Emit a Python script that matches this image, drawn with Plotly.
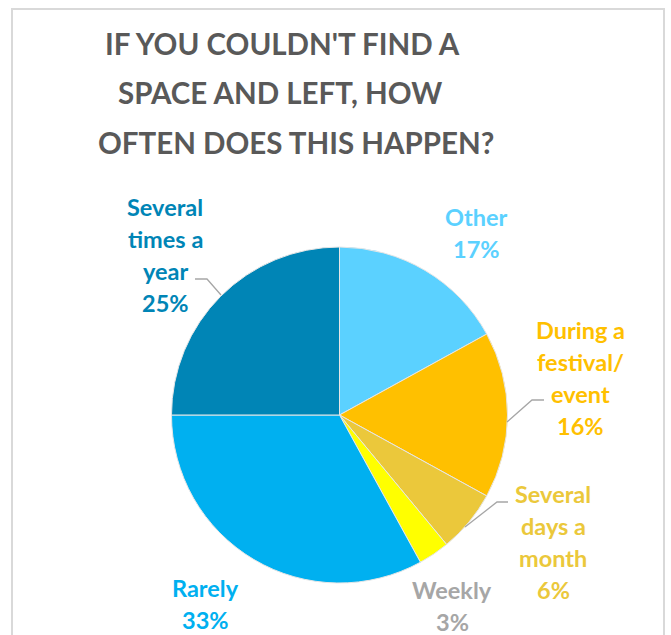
import plotly.graph_objects as go

# Survey answers, clockwise from 12 o'clock
categories = ["Other", "During a festival/ event", "Several days a month",
              "Weekly", "Rarely", "Several times a year"]
percent = [17, 16, 6, 3, 33, 25]
slice_colors = ["#5BD1FF", "#FFC000", "#EBC83B", "#FFFF00", "#00B0F0", "#0085B6"]
label_colors = ["#5BD1FF", "#FFC000", "#EBC83B", "#A6A6A6", "#00B0F0", "#0085B6"]

# How each category name is wrapped in its label
wrapped = [["Other"], ["During a", "festival/", "event"], ["Several", "days a", "month"],
           ["Weekly"], ["Rarely"], ["Several", "times a", "year"]]

title_lines = ["IF YOU COULDN'T FIND A", "SPACE AND LEFT, HOW", "OFTEN DOES THIS HAPPEN?"]

W, H = 671, 635
FONT = "Lato"


def px(x):
    return x / W


def py(y):
    return 1 - y / H


# pie geometry in pixels
cx, cy, r = 339.5, 415, 168

fig = go.Figure(go.Pie(
    labels=categories,
    values=percent,
    sort=False,
    direction="clockwise",
    rotation=0,
    textinfo="none",
    hoverinfo="label+percent",
    marker=dict(colors=slice_colors, line=dict(color="#E6E6E6", width=1)),
    domain=dict(x=[px(cx - r), px(cx + r)], y=[py(cy + r), py(cy - r)]),
    showlegend=False,
))

annotations = []

# title, one annotation per line
title_pos = [(282.5, 43), (280, 93), (295.5, 143)]
for text, (x, y) in zip(title_lines, title_pos):
    annotations.append(dict(x=px(x), y=py(y), xref="paper", yref="paper",
                            text=f"<b>{text}</b>", showarrow=False,
                            xanchor="center", yanchor="middle",
                            font=dict(family=FONT, size=29.5, color="#595959")))

# data labels: centre x and y of the first line, line spacing
label_pos = [(476, 217), (580, 330), (553, 494), (452, 590), (205, 588), (165, 207)]
line_gap = 32
for lines, val, col, (x, y0) in zip(wrapped, percent, label_colors, label_pos):
    for i, t in enumerate(lines + [f"{val}%"]):
        annotations.append(dict(x=px(x), y=py(y0 + i * line_gap), xref="paper", yref="paper",
                                text=f"<b>{t}</b>", showarrow=False,
                                xanchor="center", yanchor="middle",
                                font=dict(family=FONT, size=23.5, color=col)))

# leader lines for labels that sit away from their slice
leaders = [
    [(195, 279), (207, 279), (221, 295)],
    [(544, 400), (532, 400), (507, 422)],
    [(508, 502), (497, 502), (465, 527)],
]
shapes = []
for pts in leaders:
    path = "M " + " L ".join(f"{px(x)} {py(y)}" for x, y in pts)
    shapes.append(dict(type="path", path=path, xref="paper", yref="paper",
                       line=dict(color="#A6A6A6", width=1.3)))

# chart frame
shapes.append(dict(type="rect", xref="paper", yref="paper",
                   x0=px(12), x1=px(664), y0=py(660), y1=py(9),
                   line=dict(color="#D9D9D9", width=2), fillcolor="rgba(0,0,0,0)"))

fig.update_layout(
    width=W, height=H,
    margin=dict(l=0, r=0, t=0, b=0),
    paper_bgcolor="white",
    plot_bgcolor="white",
    annotations=annotations,
    shapes=shapes,
)

fig.write_html("out.html")
